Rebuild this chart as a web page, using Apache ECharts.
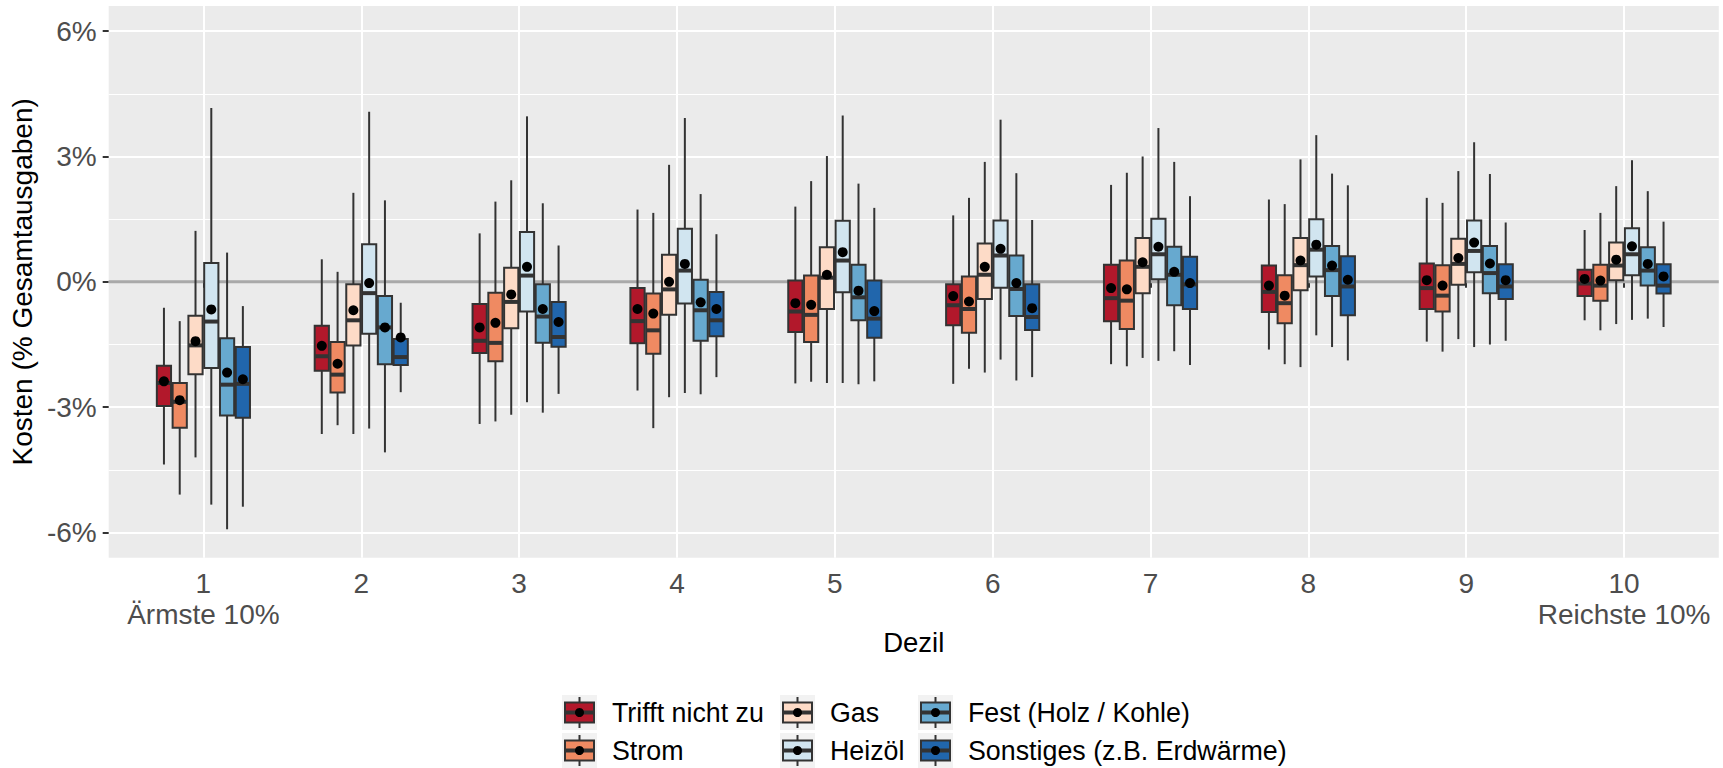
<!DOCTYPE html>
<html>
<head>
<meta charset="utf-8">
<script src="https://cdn.jsdelivr.net/npm/echarts@6/dist/echarts.min.js"></script>
<style>
  html, body { margin: 0; padding: 0; background: #ffffff; }
  #chart { width: 1723px; height: 768px; }
</style>
</head>
<body>
<div id="chart"></div>
<script>
// Deciles on the x axis and their tick labels
const deciles = [1, 2, 3, 4, 5, 6, 7, 8, 9, 10];
const decileLabels = ['1\nÄrmste 10%', '2', '3', '4', '5', '6', '7', '8', '9', '10\nReichste 10%'];

// Heating types (fill groups)
const groups = ['Trifft nicht zu', 'Strom', 'Gas', 'Heizöl', 'Fest (Holz / Kohle)', 'Sonstiges (z.B. Erdwärme)'];
const groupColors = ['#B2182B', '#EF8A62', '#FDDBC7', '#D1E5F0', '#67A9CF', '#2166AC'];

// Box statistics per decile: [lower whisker, Q1, median, Q3, upper whisker], in %
const boxTrifft = [
  [-4.37, -2.97, -2.42, -2.01, -0.62], [-3.64, -2.13, -1.78, -1.05, 0.54], [-3.40, -1.70, -1.41, -0.53, 1.16],
  [-2.60, -1.47, -0.94, -0.15, 1.73], [-2.43, -1.20, -0.71, 0.03, 1.80], [-2.44, -1.04, -0.56, -0.06, 1.59],
  [-1.97, -0.94, -0.39, 0.41, 2.32], [-1.62, -0.72, -0.24, 0.39, 1.97], [-1.43, -0.65, -0.15, 0.44, 2.01],
  [-0.92, -0.34, -0.04, 0.29, 1.24]
];
const boxStrom = [
  [-5.09, -3.49, -2.87, -2.42, -0.94], [-3.43, -2.65, -2.22, -1.44, 0.24], [-3.34, -1.90, -1.46, -0.26, 1.92],
  [-3.50, -1.72, -1.16, -0.28, 1.65], [-2.39, -1.44, -0.79, 0.15, 2.41], [-2.08, -1.22, -0.65, 0.13, 2.01],
  [-2.02, -1.13, -0.45, 0.51, 2.61], [-1.97, -0.99, -0.51, 0.16, 1.86], [-1.67, -0.71, -0.33, 0.40, 1.89],
  [-1.16, -0.45, -0.09, 0.41, 1.65]
];
const boxGas = [
  [-4.20, -2.21, -1.52, -0.81, 1.22], [-3.64, -1.52, -0.92, -0.06, 2.13], [-3.18, -1.11, -0.48, 0.34, 2.43],
  [-2.76, -0.79, -0.18, 0.65, 2.80], [-2.42, -0.65, 0.10, 0.83, 3.01], [-2.17, -0.41, 0.17, 0.92, 2.87],
  [-1.82, -0.27, 0.36, 1.05, 3.00], [-2.04, -0.20, 0.40, 1.05, 2.93], [-1.37, -0.07, 0.43, 1.03, 2.65],
  [-1.01, 0.04, 0.39, 0.94, 2.29]
];
const boxHeizoel = [
  [-5.33, -2.06, -0.95, 0.45, 4.16], [-3.51, -1.24, -0.27, 0.90, 4.07], [-2.88, -0.71, 0.15, 1.19, 3.96],
  [-2.66, -0.52, 0.27, 1.27, 3.92], [-2.42, -0.25, 0.51, 1.46, 3.98], [-1.86, -0.14, 0.63, 1.47, 3.88],
  [-1.89, 0.06, 0.66, 1.51, 3.68], [-1.28, 0.13, 0.77, 1.50, 3.51], [-1.56, 0.23, 0.74, 1.47, 3.34],
  [-0.91, 0.16, 0.66, 1.28, 2.91]
];
const boxFest = [
  [-5.92, -3.20, -2.46, -1.35, 0.70], [-4.08, -1.97, -1.09, -0.34, 1.95], [-3.13, -1.46, -0.83, -0.06, 1.88],
  [-2.69, -1.41, -0.68, 0.05, 2.10], [-2.45, -0.92, -0.37, 0.41, 2.35], [-2.36, -0.82, -0.17, 0.63, 2.60],
  [-1.66, -0.56, 0.17, 0.84, 2.87], [-1.56, -0.34, 0.28, 0.86, 2.59], [-1.50, -0.27, 0.21, 0.86, 2.58],
  [-0.88, -0.09, 0.27, 0.83, 2.17]
];
const boxSonstiges = [
  [-5.38, -3.25, -2.44, -1.56, -0.58], [-2.64, -1.99, -1.80, -1.37, -0.50], [-2.68, -1.55, -1.32, -0.48, 0.87],
  [-2.28, -1.30, -0.92, -0.24, 1.14], [-2.38, -1.34, -0.88, 0.03, 1.77], [-2.28, -1.15, -0.84, -0.06, 1.48],
  [-1.99, -0.65, -0.06, 0.60, 2.05], [-1.88, -0.80, -0.11, 0.61, 2.31], [-1.41, -0.41, -0.11, 0.42, 1.42],
  [-1.08, -0.28, -0.09, 0.42, 1.44]
];

// Group means per decile, in %
const meanTrifft    = [-2.38, -1.53, -1.09, -0.65, -0.51, -0.34, -0.15, -0.09, 0.04, 0.07];
const meanStrom     = [-2.83, -1.96, -0.98, -0.76, -0.55, -0.47, -0.18, -0.33, -0.09, 0.03];
const meanGas       = [-1.42, -0.68, -0.30, 0.00, 0.17, 0.36, 0.47, 0.51, 0.57, 0.53];
const meanHeizoel   = [-0.66, -0.03, 0.36, 0.43, 0.71, 0.79, 0.84, 0.89, 0.94, 0.85];
const meanFest      = [-2.17, -1.09, -0.65, -0.49, -0.21, -0.03, 0.24, 0.39, 0.44, 0.43];
const meanSonstiges = [-2.33, -1.33, -0.96, -0.65, -0.70, -0.63, -0.03, 0.05, 0.04, 0.13];

// Axis ticks
const yMajorTicks = [-6, -3, 0, 3, 6];
const yMinorTicks = [-4.5, -1.5, 1.5, 4.5];
const zeroRef = 0;

const boxSets = [boxTrifft, boxStrom, boxGas, boxHeizoel, boxFest, boxSonstiges];
const meanSets = [meanTrifft, meanStrom, meanGas, meanHeizoel, meanFest, meanSonstiges];

// Layout / style constants
const X_MIN = 0.4, X_MAX = 10.6;
const Y_MIN = -6.6, Y_MAX = 6.6;
const DODGE = 0.6;                       // total width taken by the six boxes of a decile
const SLOT = DODGE / groups.length;      // width per box slot
const BOX_W = SLOT * 0.9;                // box width with dodge padding
const EDGE = '#333333';
const FONT = "'Liberation Sans', Arial, Helvetica, sans-serif";
const FS_AXIS = 28;
const FS_TITLE = 27.5;
const FS_LEGEND = 26.8;

function boxRenderer(color) {
  return function (params, api) {
    const x = api.value(0);
    const lo = api.coord([x, api.value(1)]);
    const q1 = api.coord([x, api.value(2)]);
    const md = api.coord([x, api.value(3)]);
    const q3 = api.coord([x, api.value(4)]);
    const hi = api.coord([x, api.value(5)]);
    const mn = api.coord([x, api.value(6)]);
    const hw = api.size([BOX_W, 0])[0] / 2;
    const cx = lo[0];
    return {
      type: 'group',
      children: [
        { type: 'line', shape: { x1: cx, y1: hi[1], x2: cx, y2: q3[1] }, style: { stroke: EDGE, lineWidth: 2 } },
        { type: 'line', shape: { x1: cx, y1: q1[1], x2: cx, y2: lo[1] }, style: { stroke: EDGE, lineWidth: 2 } },
        { type: 'rect', shape: { x: cx - hw, y: q3[1], width: 2 * hw, height: q1[1] - q3[1] },
          style: { fill: color, stroke: EDGE, lineWidth: 2 } },
        { type: 'line', shape: { x1: cx - hw, y1: md[1], x2: cx + hw, y2: md[1] }, style: { stroke: EDGE, lineWidth: 4 } },
        { type: 'circle', shape: { cx: cx, cy: mn[1], r: 5 }, style: { fill: '#000000' } }
      ]
    };
  };
}

const boxSeries = groups.map(function (name, g) {
  const offset = (g - (groups.length - 1) / 2) * SLOT;
  const rows = deciles.map(function (d, i) {
    const b = boxSets[g][i];
    return [d + offset, b[0], b[1], b[2], b[3], b[4], meanSets[g][i]];
  });
  return {
    type: 'custom',
    name: name,
    z: 3,
    renderItem: boxRenderer(groupColors[g]),
    encode: { x: 0, y: [1, 2, 3, 4, 5, 6] },
    data: rows
  };
});

// Reference line at zero, drawn beneath the boxes
const zeroSeries = {
  type: 'line',
  name: 'zero',
  z: 1,
  silent: true,
  symbol: 'none',
  lineStyle: { color: '#A9A9A9', width: 3 },
  data: [[X_MIN, zeroRef], [X_MAX, zeroRef]]
};

// Legend drawn as boxplot keys in three columns, filled column-wise
const legendCols = [562, 780, 918];
const legendRows = [695, 733];
const KEY = 35;
const legendGraphics = [];
groups.forEach(function (name, g) {
  const x = legendCols[Math.floor(g / 2)];
  const y = legendRows[g % 2];
  const cx = x + KEY / 2, cy = y + KEY / 2;
  legendGraphics.push({
    type: 'group',
    children: [
      { type: 'rect', shape: { x: x, y: y, width: KEY, height: KEY }, style: { fill: '#F2F2F2' } },
      { type: 'line', shape: { x1: cx, y1: y + 2, x2: cx, y2: y + KEY - 2 }, style: { stroke: EDGE, lineWidth: 2 } },
      { type: 'rect', shape: { x: x + 3, y: y + 7.5, width: KEY - 6, height: KEY - 15 },
        style: { fill: groupColors[g], stroke: EDGE, lineWidth: 2 } },
      { type: 'line', shape: { x1: x + 3, y1: cy, x2: x + KEY - 3, y2: cy }, style: { stroke: EDGE, lineWidth: 4 } },
      { type: 'circle', shape: { cx: cx, cy: cy, r: 4.5 }, style: { fill: '#000000' } },
      { type: 'text', x: x + KEY + 15, y: cy,
        style: { text: name, font: FS_LEGEND + 'px ' + FONT, fill: '#000000', verticalAlign: 'middle', align: 'left' } }
    ]
  });
});

const chart = echarts.init(document.getElementById('chart'), null, { renderer: 'svg' });
chart.setOption({
  backgroundColor: '#ffffff',
  animation: false,
  textStyle: { fontFamily: FONT },
  grid: {
    left: 107.5, right: 4.2, top: 6, bottom: 210.3,
    show: true, backgroundColor: '#EBEBEB', borderWidth: 0
  },
  xAxis: {
    type: 'value',
    min: X_MIN, max: X_MAX,
    name: 'Dezil',
    nameLocation: 'middle',
    nameGap: 71,
    nameMoveOverlap: false,
    nameTextStyle: { fontSize: FS_TITLE, color: '#000000', fontFamily: FONT },
    axisLine: { show: false },
    axisTick: { show: true, length: 6, lineStyle: { color: EDGE, width: 2 }, customValues: deciles },
    axisLabel: {
      customValues: deciles,
      margin: 10,
      fontSize: FS_AXIS, color: '#4D4D4D', fontFamily: FONT, lineHeight: 31,
      formatter: function (v) { return decileLabels[deciles.indexOf(Math.round(v))]; }
    },
    splitLine: { show: true, lineStyle: { color: '#FFFFFF', width: 2 } }
  },
  yAxis: [
    {
      type: 'value',
      min: Y_MIN, max: Y_MAX,
      name: 'Kosten (% Gesamtausgaben)',
      nameLocation: 'middle',
      nameGap: 66,
      nameTextStyle: { fontSize: FS_AXIS, color: '#000000', fontFamily: FONT },
      axisLine: { show: false },
      axisTick: { show: true, length: 6, lineStyle: { color: EDGE, width: 2 }, customValues: yMajorTicks },
      axisLabel: {
        customValues: yMajorTicks,
        margin: 12,
        fontSize: FS_AXIS, color: '#4D4D4D', fontFamily: FONT,
        formatter: function (v) { return v + '%'; }
      },
      splitLine: { show: true, lineStyle: { color: '#FFFFFF', width: 2 } }
    },
    {
      type: 'value',
      min: Y_MIN, max: Y_MAX,
      axisLine: { show: false },
      axisTick: { show: false, customValues: yMinorTicks },
      axisLabel: { show: false, customValues: yMinorTicks },
      splitLine: { show: true, lineStyle: { color: '#FFFFFF', width: 1.2 } }
    }
  ],
  series: [zeroSeries].concat(boxSeries),
  graphic: legendGraphics
});
</script>
</body>
</html>
